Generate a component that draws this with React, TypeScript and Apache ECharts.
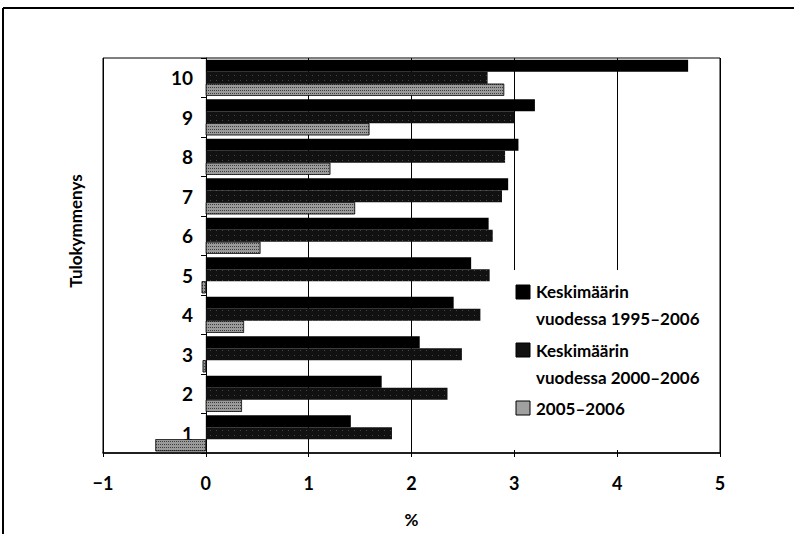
import React, { useEffect, useRef } from 'react';
import * as echarts from 'echarts';

const categories = ['1', '2', '3', '4', '5', '6', '7', '8', '9', '10'];
const avg1995_2006 = [1.41, 1.71, 2.08, 2.41, 2.58, 2.75, 2.94, 3.04, 3.2, 4.69];
const avg2000_2006 = [1.81, 2.35, 2.49, 2.67, 2.76, 2.79, 2.88, 2.91, 3.0, 2.74];
const change2005_2006 = [-0.49, 0.35, -0.03, 0.37, -0.04, 0.53, 1.45, 1.21, 1.59, 2.9];
const legendLines = [
  ['Keskimäärin', 'vuodessa 1995–2006'],
  ['Keskimäärin', 'vuodessa 2000–2006'],
  ['2005–2006'],
];
const yAxisTitle = 'Tulokymmenys';
const xAxisTitle = '%';

const FONT = 'Lato, "Open Sans", sans-serif';

const decal2 = {
  symbol: 'rect',
  symbolSize: 1,
  color: 'rgba(255,255,255,0.22)',
  dashArrayX: [1, 5],
  dashArrayY: [1, 4],
  rotation: 0,
};
const decal3 = {
  symbol: 'rect',
  symbolSize: 1,
  color: 'rgba(0,0,0,0.6)',
  dashArrayX: [1, 1],
  dashArrayY: [1, 2],
  rotation: 0,
};

export default function App() {
  const ref = useRef<HTMLDivElement>(null);
  useEffect(() => {
    if (!ref.current) return;
    const chart = echarts.init(ref.current, null, { renderer: 'svg' });
    const legendEls: any[] = [
      { type: 'rect', shape: { x: 505, y: 270, width: 211, height: 180 }, style: { fill: '#fff' }, z: 10 },
    ];
    const iconY = [285, 343, 401];
    const lineY = [[291, 318], [350, 377], [408]];
    legendLines.forEach((lines, i) => {
      legendEls.push({
        type: 'rect',
        shape: { x: 516, y: iconY[i], width: 14, height: 14 },
        style: { fill: i === 2 ? '#a0a0a0' : i === 1 ? '#111' : '#000', stroke: '#000', lineWidth: 1 },
        z: 11,
      });
      lines.forEach((t, j) => {
        legendEls.push({
          type: 'text',
          x: 536,
          y: lineY[i][j],
          style: {
            text: t,
            fontFamily: FONT,
            fontSize: 17,
            fontWeight: 'bold',
            fill: '#000',
            textAlign: 'left',
            textVerticalAlign: 'middle',
          },
          z: 11,
        });
      });
    });

    chart.setOption({
      animation: false,
      backgroundColor: '#fff',
      textStyle: { fontFamily: FONT },
      grid: {
        left: 103,
        right: 74,
        top: 58,
        bottom: 81,
        show: true,
        borderColor: '#000',
        borderWidth: 1,
        backgroundColor: 'transparent',
      },
      xAxis: {
        type: 'value',
        min: -1,
        max: 5,
        interval: 1,
        name: xAxisTitle,
        nameLocation: 'middle',
        nameGap: 58,
        nameTextStyle: { fontFamily: FONT, fontSize: 17, fontWeight: 'bold', color: '#000' },
        axisLine: { show: true, lineStyle: { color: '#000', width: 1.5 } },
        axisTick: { show: true, length: 4, lineStyle: { color: '#000' } },
        axisLabel: {
          fontFamily: FONT,
          fontSize: 18,
          fontWeight: 'bold',
          color: '#000',
          margin: 21,
          formatter: (v: number) => (v < 0 ? '−' + Math.abs(v) : String(v)),
        },
        splitLine: { show: true, lineStyle: { color: '#000', width: 1 } },
      },
      yAxis: {
        type: 'category',
        data: categories,
        offset: -103,
        axisLine: { show: true, onZero: false, lineStyle: { color: '#000', width: 1 } },
        axisTick: { show: true, length: 5, lineStyle: { color: '#000' } },
        axisLabel: {
          fontFamily: FONT,
          fontSize: 19,
          fontWeight: 'bold',
          color: '#000',
          margin: 13,
        },
        splitLine: { show: false },
      },
      series: [
        {
          name: 'Keskimäärin vuodessa 1995–2006',
          type: 'bar',
          data: avg1995_2006,
          barWidth: 12,
          barGap: '0%',
          itemStyle: { color: '#000' },
        },
        {
          name: 'Keskimäärin vuodessa 2000–2006',
          type: 'bar',
          data: avg2000_2006,
          barWidth: 12,
          barGap: '0%',
          itemStyle: { color: '#111', decal: decal2 },
        },
        {
          name: '2005–2006',
          type: 'bar',
          data: change2005_2006,
          barWidth: 12,
          barGap: '0%',
          itemStyle: { color: '#9a9a9a', decal: decal3, borderColor: '#000', borderWidth: 0.5 },
        },
      ],
      graphic: [
        { type: 'line', shape: { x1: 3, y1: 8, x2: 794, y2: 8 }, style: { stroke: '#000', lineWidth: 2 }, z: 20 },
        { type: 'line', shape: { x1: 3, y1: 8, x2: 3, y2: 534 }, style: { stroke: '#000', lineWidth: 2 }, z: 20 },
        {
          type: 'text',
          x: 75,
          y: 231,
          rotation: Math.PI / 2,
          style: {
            text: yAxisTitle,
            fontFamily: FONT,
            fontSize: 17,
            fontWeight: 'bold',
            fill: '#000',
            textAlign: 'center',
            textVerticalAlign: 'middle',
          },
          z: 20,
        },
        ...legendEls,
      ],
    });
    return () => chart.dispose();
  }, []);
  return <div ref={ref} style={{ position: 'fixed', left: 0, top: 0, width: 794, height: 534 }} />;
}
